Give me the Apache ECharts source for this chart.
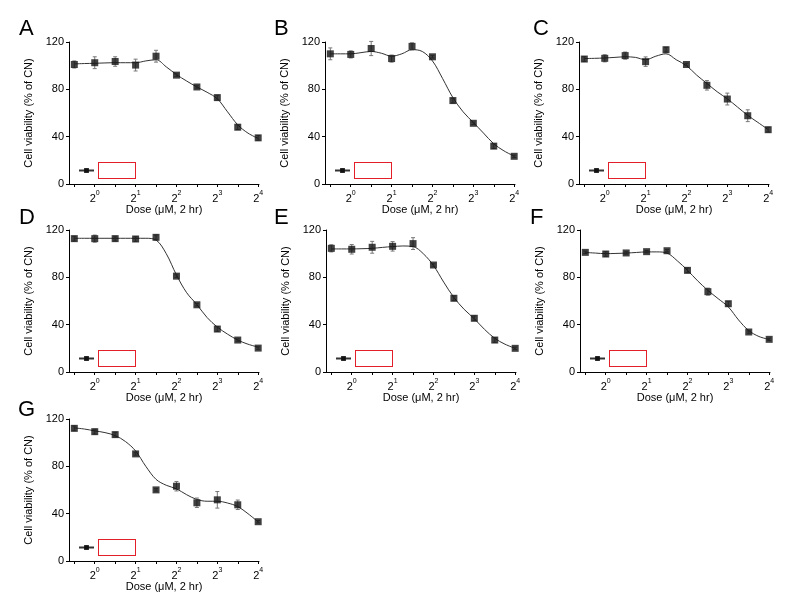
<!DOCTYPE html>
<html>
<head>
<meta charset="utf-8">
<script src="https://cdn.jsdelivr.net/npm/echarts@6/dist/echarts.min.js"></script>
<style>
html,body{margin:0;padding:0;background:#fff;}
#c{width:798px;height:605px;}
</style>
</head>
<body>
<div id="c"></div>
<script>
// ---- data ----
var panelNames = ['A','B','C','D','E','F','G'];
var doseLog2 = [-0.5, 0, 0.5, 1, 1.5, 2, 2.5, 3, 3.5, 4];           // dose = 2^x µM
var xTickExp = [0, 1, 2, 3, 4];
var xMinorExp = [-0.5, 0.5, 1.5, 2.5, 3.5];
var yTicks = [0, 40, 80, 120];

var meanA = [101, 102.5, 103.5, 100.5, 108, 92, 82, 73, 48, 39];
var meanB = [110, 109.5, 114.5, 106, 116.3, 107.5, 70.5, 51.3, 32, 23.4];
var meanC = [105.6, 106.2, 108.5, 103.4, 113.5, 101, 83.4, 71.8, 57.7, 45.9];
var meanD = [112.7, 112.7, 112.7, 112.4, 113.8, 81, 56.8, 36.3, 27, 20.2];
var meanE = [104.5, 103.7, 105.4, 106.2, 108.5, 90.4, 62.3, 45.4, 27, 20];
var meanF = [101.1, 99.7, 100.6, 101.7, 102.5, 85.9, 67.9, 57.7, 33.8, 27.6];
var meanG = [112.1, 109.3, 106.8, 90.5, 60.1, 63.2, 49.2, 51.7, 47.5, 33.2];

var errA = [3, 5, 4, 5, 5, 1, 1, 2, 2, 2];
var errB = [5, 3, 6, 3, 3, 1, 2, 1, 2, 1];
var errC = [2, 3, 3, 4, 2, 1, 4, 5, 5, 2];
var errD = [2, 3, 2, 2, 2, 1, 1, 2, 1, 1];
var errE = [3, 4, 5, 4, 5, 1, 2, 2, 2, 1];
var errF = [1, 2, 1, 1, 1, 2, 3, 2, 1, 1];
var errG = [2, 2, 2, 1, 1, 4, 4, 7, 4, 1];

// fitted curves at quarter steps of log2(dose)
var fitX = [-0.5, -0.25, 0, 0.25, 0.5, 0.75, 1, 1.25, 1.5, 1.75, 2, 2.25, 2.5, 2.75, 3, 3.25, 3.5, 3.75, 4];
var fitA = [101.5, 101.8, 102, 102.3, 102.5, 102.5, 102.5, 104, 105, 99, 92.5, 87, 82, 77.5, 72, 61, 50, 43, 38.5];
var fitB = [110, 110, 110, 111, 112, 110.5, 108, 110, 113.5, 112, 104, 89, 73, 61, 52, 43, 34, 28, 23.5];
var fitC = [106, 106.2, 106.5, 107, 107.5, 107, 105, 108, 110, 105, 100, 92, 85, 78, 72, 65, 58, 52, 46];
var fitD = [113, 113, 113, 113, 113, 113, 113, 113, 111.5, 100, 82, 67, 57, 46, 38, 32, 27, 23.5, 21];
var fitE = [104, 104, 104, 104.2, 104.5, 105.3, 106, 106.5, 106, 100, 90, 76, 63, 53, 45, 36, 28.5, 23.5, 20];
var fitF = [101, 100.5, 100, 100.2, 100.5, 101, 101.5, 101.5, 100.5, 94, 86, 77, 69, 62, 55, 44, 35, 30, 27.5];
var fitG = [112.5, 111.5, 110, 108.5, 106, 101, 93, 80, 69, 64, 61, 56, 52, 50.5, 50.5, 49, 46, 40, 33];

var yTitle = 'Cell viability (% of CN)';
var xTitle = 'Dose (\u03bcM, 2 hr)';

// ---- layout ----
var means = [meanA, meanB, meanC, meanD, meanE, meanF, meanG];
var errs = [errA, errB, errC, errD, errE, errF, errG];
var fits = [fitA, fitB, fitC, fitD, fitE, fitF, fitG];
var gridPos = [
  {left: 69, top: 42}, {left: 325, top: 42}, {left: 579, top: 42},
  {left: 69, top: 230}, {left: 326, top: 230}, {left: 580, top: 230},
  {left: 69, top: 419}
];
var letterPos = [
  {left: 19, top: 18}, {left: 274, top: 18}, {left: 533, top: 18},
  {left: 19, top: 207}, {left: 274, top: 207}, {left: 530, top: 207},
  {left: 18, top: 399}
];
var GW = 190, GH = 142;
var FONT = '"Liberation Sans", Arial, sans-serif';
var BOX = {width: 36, height: 15, borderColor: '#e3202a', borderWidth: 1, backgroundColor: '#fff'};

var option = {
  animation: false,
  backgroundColor: '#fff',
  textStyle: {fontFamily: FONT},
  title: [], grid: [], xAxis: [], yAxis: [], series: [], legend: []
};

panelNames.forEach(function (p, i) {
  var g = gridPos[i];
  option.title.push({
    text: p, left: letterPos[i].left, top: letterPos[i].top, padding: 0,
    textStyle: {fontFamily: FONT, fontSize: 22, fontWeight: 'normal', color: '#000'}
  });
  option.grid.push({left: g.left, top: g.top, width: GW, height: GH, containLabel: false});
  option.xAxis.push({
    type: 'value', gridIndex: i, min: -0.63, max: 4.02,
    splitLine: {show: false},
    axisLine: {show: true, onZero: false, lineStyle: {color: '#000', width: 1}},
    axisTick: {show: true, length: 3, lineStyle: {color: '#000'}, customValues: xTickExp.concat(xMinorExp)},
    axisLabel: {
      customValues: xTickExp, margin: 6, color: '#000',
      formatter: function (v) { return '{b|2}{s|' + Math.round(v) + '}'; },
      rich: {
        b: {fontSize: 11, fontFamily: FONT, color: '#000', verticalAlign: 'bottom', lineHeight: 14},
        s: {fontSize: 7, fontFamily: FONT, color: '#000', verticalAlign: 'top', lineHeight: 14, padding: [0, 0, 5, 0]}
      }
    },
    name: xTitle, nameLocation: 'middle', nameGap: 17,
    nameTextStyle: {fontSize: 11, color: '#000', fontFamily: FONT}
  });
  option.yAxis.push({
    type: 'value', gridIndex: i, min: 0, max: 120, interval: 40,
    splitLine: {show: false},
    axisLine: {show: true, onZero: false, lineStyle: {color: '#000', width: 1}},
    axisTick: {show: true, length: 3, lineStyle: {color: '#000'}},
    axisLabel: {fontSize: 11, color: '#000', margin: 5, fontFamily: FONT},
    name: yTitle, nameLocation: 'middle', nameGap: 35,
    nameTextStyle: {fontSize: 11, color: '#000', fontFamily: FONT}
  });
  var fitName = 'fit' + p;
  option.series.push({
    name: fitName, type: 'line', xAxisIndex: i, yAxisIndex: i,
    data: fitX.map(function (x, k) { return [x, fits[i][k]]; }),
    smooth: 0.35, showSymbol: false, symbol: 'rect', symbolSize: 6,
    lineStyle: {color: '#333', width: 1}, itemStyle: {color: '#111'},
    z: 2
  });
  option.series.push({
    name: 'err' + p, type: 'custom', xAxisIndex: i, yAxisIndex: i,
    data: doseLog2.map(function (x, k) { return [x, means[i][k], errs[i][k]]; }),
    renderItem: function (params, api) {
      var x = api.value(0), y = api.value(1), e = api.value(2);
      var top = api.coord([x, y + e]), bot = api.coord([x, y - e]);
      var st = {stroke: '#777', lineWidth: 1};
      return {type: 'group', children: [
        {type: 'line', shape: {x1: top[0], y1: top[1], x2: bot[0], y2: bot[1]}, style: st},
        {type: 'line', shape: {x1: top[0] - 2, y1: top[1], x2: top[0] + 2, y2: top[1]}, style: st},
        {type: 'line', shape: {x1: bot[0] - 2, y1: bot[1], x2: bot[0] + 2, y2: bot[1]}, style: st}
      ]};
    },
    z: 3
  });
  option.series.push({
    name: 'pts' + p, type: 'scatter', xAxisIndex: i, yAxisIndex: i,
    data: doseLog2.map(function (x, k) { return [x, means[i][k]]; }),
    symbol: 'rect', symbolSize: 7, itemStyle: {color: '#111'}, z: 4
  });
  option.legend.push({
    data: [{name: fitName, textStyle: {rich: {box: BOX}}}],
    left: g.left + 9, top: g.top + 120, padding: 0,
    itemWidth: 15, itemHeight: 6, selectedMode: false,
    formatter: function () { return '{box| }'; },
    textStyle: {rich: {box: BOX}}
  });
});

var chart = echarts.init(document.getElementById('c'), null, {renderer: 'canvas'});
chart.setOption(option);
</script>
</body>
</html>
